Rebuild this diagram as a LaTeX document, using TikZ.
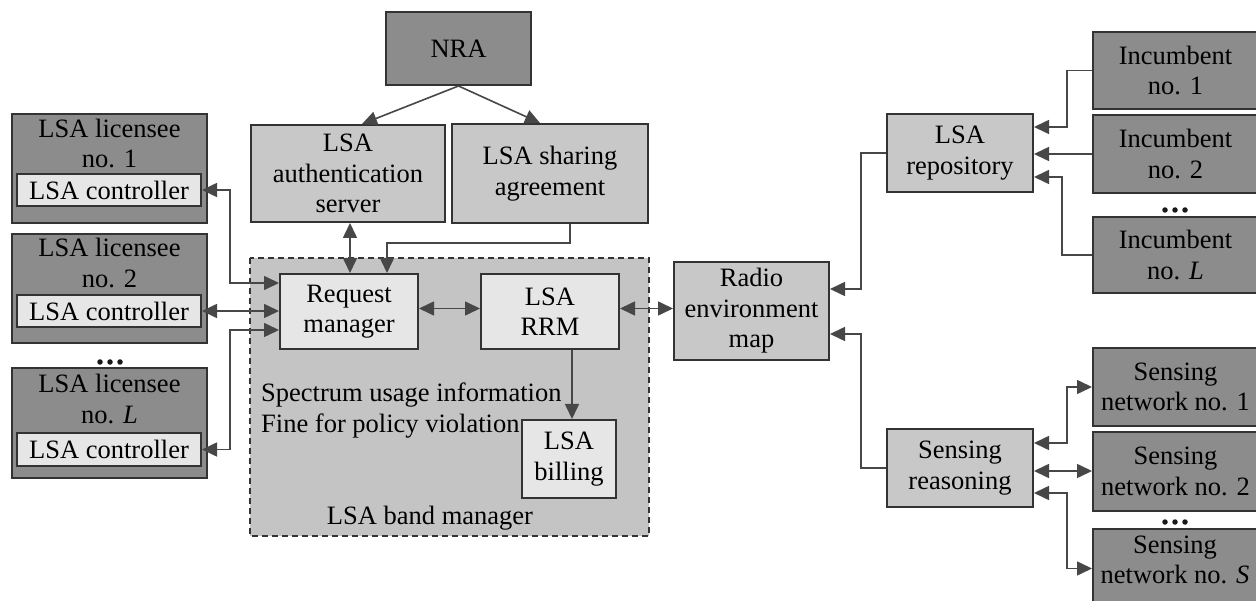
\documentclass[tikz,border=0pt]{standalone}
\usepackage{fontspec}
\setmainfont{Liberation Serif}
\usetikzlibrary{arrows.meta,calc}

\definecolor{darkfill}{HTML}{8C8C8C}
\definecolor{midfill}{HTML}{C8C8C8}
\definecolor{lightfill}{HTML}{E6E6E6}
\definecolor{bandfill}{HTML}{C4C4C4}
\definecolor{edge}{HTML}{333333}

\tikzset{
  txt/.style={font=\fontsize{26.5}{30.5}\selectfont, text=black, inner sep=0pt, align=center},
  box/.style={txt, draw=edge, line width=2pt, rectangle},
  darkbox/.style={box, fill=darkfill},
  midbox/.style={box, fill=midfill},
  lightbox/.style={box, fill=lightfill},
  link/.style={draw=edge!90, line width=1.6pt},
  tip/.style={-{Triangle[length=15pt,width=14pt]}},
  dbl/.style={{Triangle[length=15pt,width=14pt]}-{Triangle[length=15pt,width=14pt]}},
  dot/.style={fill=black!90, circle, inner sep=0pt, minimum size=5.5pt},
}

\begin{document}
\begin{tikzpicture}[x=1pt,y=-1pt]
\useasboundingbox (0,0) rectangle (1256,601);
\fill[white] (0,0) rectangle (1256,601);
\clip (0,0) rectangle (1256,601);

% ---------- LSA licensees ----------
\node[darkbox, minimum width=195, minimum height=109] (lic1) at (109.5,168.5) {};
\node[txt] (lic1t) at (109.5,143.5) {LSA licensee\\no. 1};
\node[lightbox, minimum width=184, minimum height=32] (ctl1) at (109,190) {LSA controller};

\node[darkbox, minimum width=195, minimum height=109] (lic2) at (109.5,288.5) {};
\node[txt] (lic2t) at (109.5,263) {LSA licensee\\no. 2};
\node[lightbox, minimum width=184, minimum height=32] (ctl2) at (109,311) {LSA controller};

\node[dot] (ld1) at (100,362) {};
\node[dot] (ld2) at (110,362) {};
\node[dot] (ld3) at (120,362) {};

\node[darkbox, minimum width=195, minimum height=110] (licL) at (109.5,423) {};
\node[txt] (licLt) at (109.5,399) {LSA licensee\\no. \textit{L}};
\node[lightbox, minimum width=184, minimum height=33] (ctlL) at (109,449.5) {LSA controller};

% ---------- NRA and its servers ----------
\node[darkbox, minimum width=145, minimum height=73] (nra) at (458.5,48.5) {NRA};
\node[midbox, minimum width=194, minimum height=97] (auth) at (348,173.5) {LSA\\authentication\\server};
\node[midbox, minimum width=196, minimum height=99] (share) at (550,173.5) {LSA sharing\\agreement};

% ---------- LSA band manager ----------
\draw[fill=bandfill, draw=edge, line width=1.8pt, dash pattern=on 6pt off 4pt] (250,258) rectangle (649,536);
\node[lightbox, minimum width=138, minimum height=75] (reqm) at (349,311.5) {Request\\manager};
\node[lightbox, minimum width=138, minimum height=75] (rrm) at (550,311.5) {LSA\\RRM};
\node[lightbox, minimum width=94, minimum height=78] (bill) at (569,459) {LSA\\billing};
\node[txt, anchor=base west, align=left] (info) at (261,402) {Spectrum usage information};
\node[txt, anchor=base west, align=left] (fine) at (261,432) {Fine for policy violation};
\node[txt, anchor=base] (bandlbl) at (430,524) {LSA band manager};

% ---------- Right-hand side ----------
\node[midbox, minimum width=155, minimum height=98] (map) at (751.5,311) {Radio\\environment\\map};
\node[midbox, minimum width=146, minimum height=78] (repo) at (960,153) {LSA\\repository};
\node[midbox, minimum width=146, minimum height=78] (sensr) at (960,468) {Sensing\\reasoning};

\node[darkbox, minimum width=165, minimum height=77] (inc1) at (1175.5,70.5) {Incumbent\\no. 1};
\node[darkbox, minimum width=165, minimum height=78] (inc2) at (1175.5,154) {Incumbent\\no. 2};
\node[dot] (id1) at (1165,210) {};
\node[dot] (id2) at (1175,210) {};
\node[dot] (id3) at (1185,210) {};
\node[darkbox, minimum width=165, minimum height=76] (incL) at (1175.5,255) {Incumbent\\no. \textit{L}};

\node[darkbox, minimum width=165, minimum height=78] (sn1) at (1175.5,387) {Sensing\\network no. 1};
\node[darkbox, minimum width=165, minimum height=79] (sn2) at (1175.5,471.5) {Sensing\\network no. 2};
\node[dot] (sd1) at (1165,522) {};
\node[dot] (sd2) at (1175,522) {};
\node[dot] (sd3) at (1185,522) {};
\node[darkbox, minimum width=165, minimum height=83] (snS) at (1175.5,570.5) {};
\node[txt] (snSt) at (1175,560) {Sensing\\network no. \textit{S}};

% ---------- Connectors ----------
\draw[link, tip] (nra.south) -- ([xshift=14]auth.north);
\draw[link, tip] (nra.south) -- ([xshift=-10]share.north);
\draw[link, dbl] ([xshift=2]auth.south) -- ([xshift=2]auth.south |- reqm.north);
\draw[link, tip] ([xshift=20]share.south) -- ++(0,19) -| ([xshift=38]reqm.north);

\draw[link, dbl] (ctl1.east) -- ++(28,0) |- ([yshift=28.5]reqm.west);
\draw[link, dbl] (ctl2.east) -- (ctl2.east -| reqm.west);
\draw[link, dbl] (ctlL.east) -- ++(28,0) |- ([yshift=-18.5]reqm.west);

\draw[link, dbl] ([yshift=3]reqm.east) -- ([yshift=3]rrm.west);
\draw[link, dbl] ([yshift=3]rrm.east) -- ([yshift=3]rrm.east -| map.west);
\draw[link, tip] ([xshift=22]rrm.south) -- ([xshift=22]rrm.south |- bill.north);

\draw[link, tip] (repo.west) -- ++(-25,0) |- ([yshift=22]map.east);
\draw[link, tip] (sensr.west) -- ++(-25,0) |- ([yshift=-23]map.east);

\draw[link, tip] (inc1.west) -- ++(-25,0) |- ([yshift=26]repo.east);
\draw[link, tip] (inc2.west) -- (inc2.west -| repo.east);
\draw[link, tip] (incL.west) -- ++(-30,0) |- ([yshift=-24]repo.east);

\draw[link, dbl] ([yshift=25]sensr.east) -- ++(33,0) |- (sn1.west);
\draw[link, dbl] ([yshift=-3]sensr.east) -- ([yshift=-3]sensr.east -| sn2.west);
\draw[link, dbl] ([yshift=-25]sensr.east) -- ++(33,0) |- ([yshift=2]snS.west);
\end{tikzpicture}
\end{document}
